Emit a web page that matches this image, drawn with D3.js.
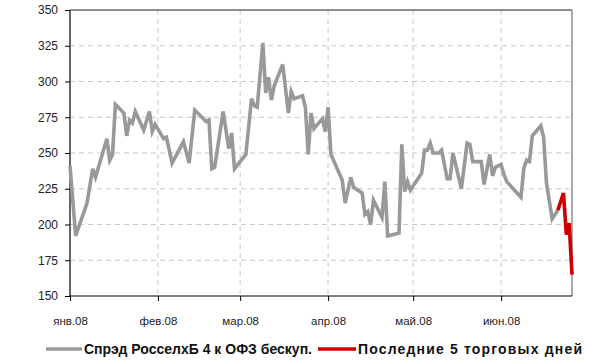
<!DOCTYPE html>
<html><head><meta charset="utf-8">
<script src="https://cdn.jsdelivr.net/npm/d3@7"></script>
<style>
body{margin:0;background:#fff;}
svg{display:block;font-family:"Liberation Sans",Arial,sans-serif;}
</style></head>
<body><svg id="c" width="590" height="360"></svg>
<script>
// ---- data ----
const spreadDates = ["2008-01-01","2008-01-03","2008-01-07","2008-01-09","2008-01-10","2008-01-14","2008-01-15","2008-01-16","2008-01-17","2008-01-20",
"2008-01-21","2008-01-22","2008-01-23","2008-01-24","2008-01-27","2008-01-29","2008-01-30","2008-01-31","2008-02-03","2008-02-04",
"2008-02-06","2008-02-10","2008-02-12","2008-02-14","2008-02-18","2008-02-19","2008-02-20","2008-02-21","2008-02-24","2008-02-26",
"2008-02-27","2008-02-28","2008-03-03","2008-03-05","2008-03-06","2008-03-07","2008-03-09","2008-03-10","2008-03-11","2008-03-12",
"2008-03-13","2008-03-16","2008-03-18","2008-03-19","2008-03-20","2008-03-23","2008-03-24","2008-03-25","2008-03-26","2008-03-27",
"2008-03-30","2008-03-31","2008-04-01","2008-04-02","2008-04-06","2008-04-07","2008-04-09","2008-04-10","2008-04-13","2008-04-14",
"2008-04-15","2008-04-16","2008-04-17","2008-04-20","2008-04-21","2008-04-22","2008-04-26","2008-04-27","2008-04-28","2008-04-29",
"2008-04-30","2008-05-04","2008-05-05","2008-05-06","2008-05-07","2008-05-08","2008-05-10","2008-05-11","2008-05-13","2008-05-14",
"2008-05-15","2008-05-18","2008-05-20","2008-05-21","2008-05-22","2008-05-25","2008-05-26","2008-05-28","2008-05-29","2008-05-30",
"2008-06-01","2008-06-02","2008-06-03","2008-06-08","2008-06-09","2008-06-10","2008-06-11","2008-06-12","2008-06-15","2008-06-16",
"2008-06-17","2008-06-19","2008-06-21"];
const spreadValues = [241,192,215,239,233,260,245,249,284,278,
262,273,271,279,266,279,265,270,260,261,
243,258,243,280,272,273,239,240,279,253,
264,239,249,288,283,282,327,292,303,287,
297,312,278,293,288,290,282,249,278,267,
274,265,282,249,231,215,233,226,222,207,
209,200,217,205,230,192,194,256,223,230,
224,236,252,252,257,250,250,252,232,232,
250,225,257,256,244,244,228,249,234,240,
242,235,230,219,239,245,244,262,269,261,
229,204,210];
const lastDates = ["2008-06-21","2008-06-23","2008-06-24","2008-06-25","2008-06-26"];
const lastValues = [210,222,193,201,165];
const yTicks = [150,175,200,225,250,275,300,325,350];
const monthTicks = ["2008-01-01","2008-02-01","2008-03-01","2008-04-01","2008-05-01","2008-06-01"];
const monthLabels = ["янв.08","фев.08","мар.08","апр.08","май.08","июн.08"];
const legendLabels = ["Спрэд РосселхБ 4 к ОФЗ бескуп.","Последние 5 торговых дней"];
const colors = ["#999999","#cc0000"];

// ---- chart ----
const parse = d3.timeParse("%Y-%m-%d");
const svg = d3.select("#c");
const L=70,R=572,T=10,B=296;
const x = d3.scaleTime().domain([parse("2008-01-01"),parse("2008-06-26")]).range([L,R]);
const y = d3.scaleLinear().domain([150,350]).range([B,T]);

// grid
svg.append("g").selectAll("line").data(yTicks.slice(1,-1)).join("line")
  .attr("x1",L).attr("x2",R).attr("y1",d=>y(d)).attr("y2",d=>y(d))
  .attr("stroke","#c8c8c8").attr("stroke-width",1).attr("stroke-dasharray","5,4");
svg.append("g").selectAll("line").data(monthTicks.slice(1)).join("line")
  .attr("x1",d=>x(parse(d))).attr("x2",d=>x(parse(d))).attr("y1",T).attr("y2",B)
  .attr("stroke","#c8c8c8").attr("stroke-width",1).attr("stroke-dasharray","5,4");

// axes
const yAxis = d3.axisLeft(y).tickValues(yTicks).tickSize(5).tickPadding(7);
const gy = svg.append("g").attr("transform",`translate(${L},0)`).call(yAxis);
gy.select(".domain").remove();
gy.selectAll("line").attr("stroke","#000");
gy.selectAll("text").attr("font-size","12px").attr("fill","#222");

const xAxis = d3.axisBottom(x).tickValues(monthTicks.map(parse)).tickSize(5).tickPadding(16)
  .tickFormat((d,i)=>monthLabels[i]);
const gx = svg.append("g").attr("transform",`translate(0,${B})`).call(xAxis);
gx.select(".domain").remove();
gx.selectAll("line").attr("stroke","#000");
gx.selectAll("text").attr("font-size","11.5px").attr("fill","#222");

// frame
svg.append("line").attr("x1",L).attr("x2",R).attr("y1",T).attr("y2",T).attr("stroke","#222");
svg.append("line").attr("x1",R).attr("x2",R).attr("y1",T).attr("y2",B).attr("stroke","#555");
svg.append("line").attr("x1",L).attr("x2",L).attr("y1",T).attr("y2",B).attr("stroke","#000").attr("stroke-width",1.2);
svg.append("line").attr("x1",L).attr("x2",R).attr("y1",B).attr("y2",B).attr("stroke","#000").attr("stroke-width",1.2);

// lines
const line = d3.line().x(d=>x(d[0])).y(d=>y(d[1])).curve(d3.curveLinear);
const s1 = spreadDates.map((d,i)=>[parse(d),spreadValues[i]]);
const s2 = lastDates.map((d,i)=>[parse(d),lastValues[i]]);
svg.append("path").datum(s1).attr("d",line).attr("fill","none").attr("stroke",colors[0])
  .attr("stroke-width",3.6).attr("stroke-linejoin","miter");
svg.append("path").datum(s2).attr("d",line).attr("fill","none").attr("stroke",colors[1])
  .attr("stroke-width",3.6).attr("stroke-linejoin","miter");

// legend
const lg = svg.append("g");
const ly = 349;
const legendLayout = [{x0:46,x1:82,tx:84,tw:228},{x0:318,x1:356,tx:358,tw:224}];
legendLabels.forEach((t,i)=>{
  const p = legendLayout[i];
  lg.append("line").attr("x1",p.x0).attr("x2",p.x1).attr("y1",ly).attr("y2",ly)
    .attr("stroke",colors[i]).attr("stroke-width",3.6);
  lg.append("text").attr("x",p.tx).attr("y",ly+5).text(t)
    .attr("font-size","14px").attr("font-weight","bold").attr("fill","#111")
    .attr("textLength",p.tw).attr("lengthAdjust","spacing");
});
</script></body></html>
